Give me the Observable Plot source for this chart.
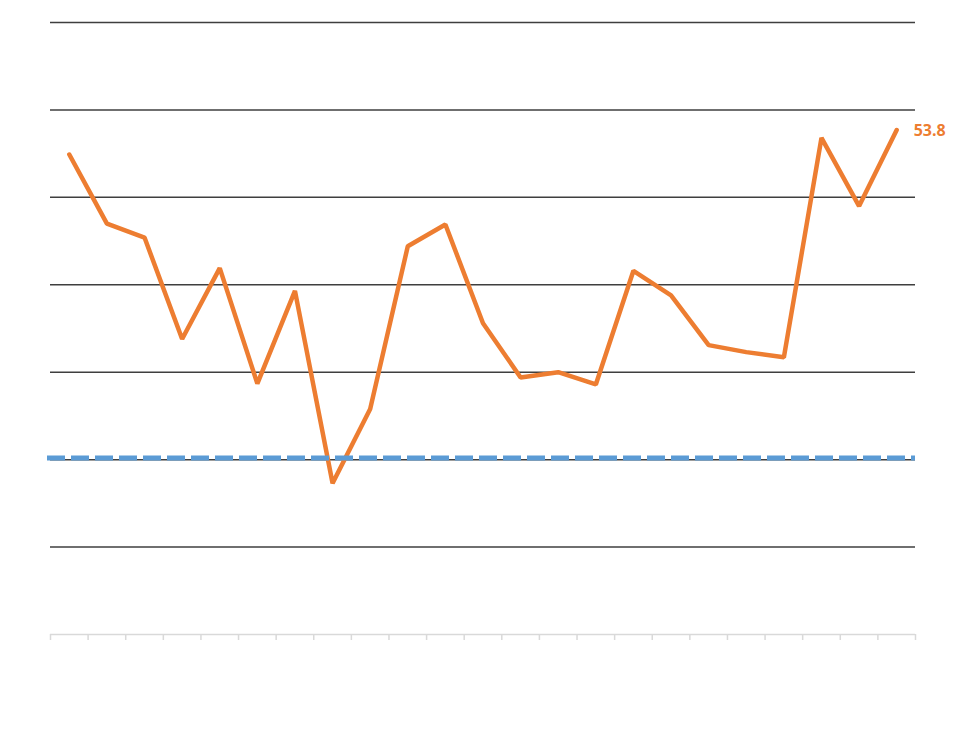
<!DOCTYPE html>
<html>
<head>
<meta charset="utf-8">
<script src="https://cdn.jsdelivr.net/npm/d3@7"></script>
<script src="https://cdn.jsdelivr.net/npm/@observablehq/plot@0.6"></script>
<style>
  html, body { margin: 0; padding: 0; background: #ffffff; }
  #chart { width: 956px; height: 750px; }
</style>
</head>
<body>
<div id="chart"></div>
<script>
// Categories (period labels are rendered invisible/white in the reference)
const categories = ["P01","P02","P03","P04","P05","P06","P07","P08","P09","P10","P11","P12",
                    "P13","P14","P15","P16","P17","P18","P19","P20","P21","P22","P23"];
// Series values
const values = [53.49, 52.70, 52.54, 51.38, 52.19, 50.87, 51.93, 49.73, 50.58, 52.44, 52.69, 51.56,
                50.94, 51.00, 50.86, 52.16, 51.88, 51.31, 51.23, 51.17, 53.68, 52.90, 53.77];
// Label shown for the last point
const lastLabel = "53.8";
// Reference (threshold) value
const thresholds = [50.02];
// Gridline values
const gridValues = [49, 50, 51, 52, 53, 54, 55];
const yDomain = [48, 55];
// Category boundaries (tick positions on the bottom axis)
const boundaries = [0,1,2,3,4,5,6,7,8,9,10,11,12,13,14,15,16,17,18,19,20,21,22,23];

const data = categories.map((c, i) => ({cat: c, pos: i + 0.5, value: values[i]}));
const last = data[data.length - 1];

const chart = Plot.plot({
  width: 956,
  height: 750,
  marginLeft: 50,
  marginRight: 41,
  marginTop: 22,
  marginBottom: 116,
  style: {background: "#ffffff", fontFamily: "'Open Sans', sans-serif"},
  x: {type: "linear", domain: [0, categories.length], axis: null, label: null},
  y: {domain: yDomain, axis: null, label: null},
  marks: [
    Plot.ruleY(gridValues, {stroke: "#3f3f3f", strokeWidth: 1.5}),
    Plot.ruleY([yDomain[0]], {stroke: "#d9d9d9", strokeWidth: 1.5}),
    Plot.axisX({ticks: boundaries, tickSize: 6, tickFormat: () => "", label: null,
                stroke: "#d9d9d9", strokeWidth: 1.5}),
    Plot.line(data, {x: "pos", y: "value", stroke: "#ed7d31", strokeWidth: 4.5,
                     strokeLinejoin: "miter", strokeLinecap: "round"}),
    Plot.ruleY(thresholds, {stroke: "#5b9bd5", strokeWidth: 5, strokeDasharray: "18,6", insetLeft: -3}),
    Plot.text([last], {x: "pos", y: "value", text: () => lastLabel, dx: 17, dy: 1, textAnchor: "start",
                       fill: "#ed7d31", fontWeight: "bold", fontSize: 16})
  ]
});
document.getElementById("chart").appendChild(chart);
</script>
</body>
</html>
